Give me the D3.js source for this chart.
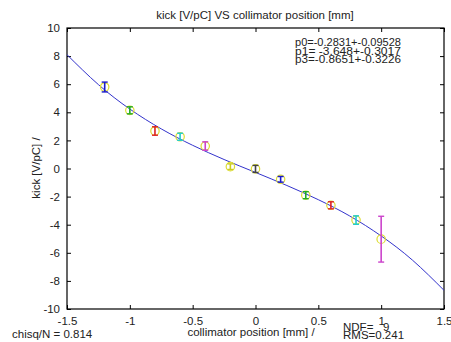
<!DOCTYPE html>
<head>
<meta charset="utf-8">
<title>kick vs collimator position</title>
<script src="https://cdn.jsdelivr.net/npm/d3@7"></script>
<style>
  body { margin: 0; background: #fff; }
  svg text { font-family: "Liberation Sans", Arial, sans-serif; fill: #222; }
</style>
</head>
<body>
<div id="chart"></div>
<script>
// measured points
var positions = [-1.2, -1.0, -0.8, -0.6, -0.4, -0.2, 0, 0.2, 0.4, 0.6, 0.8, 1.0];
var kicks     = [5.8, 4.14, 2.67, 2.26, 1.6, 0.13, -0.03, -0.77, -1.9, -2.62, -3.67, -5.03];
var errors    = [0.35, 0.25, 0.3, 0.25, 0.3, 0.2, 0.25, 0.2, 0.25, 0.25, 0.3, 1.63];
var barColors = ["#1a1acc", "#22aa22", "#dd2222", "#22cccc", "#cc44cc", "#cccc22", "#444444",
                 "#1a1acc", "#22aa22", "#dd2222", "#22cccc", "#cc44cc"];

// fit curve
var fitX = [-1.5, -1.25, -1.0, -0.75, -0.5, -0.25, 0, 0.25, 0.5, 0.75, 1.0, 1.25, 1.5];
var fitY = [8.1, 5.97, 4.23, 2.82, 1.65, 0.64, -0.28, -1.21, -2.22, -3.38, -4.8, -6.53, -8.67];

var xTicks = [-1.5, -1, -0.5, 0, 0.5, 1, 1.5];
var yTicks = [-10, -8, -6, -4, -2, 0, 2, 4, 6, 8, 10];
var fitLines = ["p0=-0.2831+-0.09528", "p1= -3.648+-0.3017", "p3=-0.8651+-0.3226"];

var width = 451, height = 342;
var mLeft = 67, mRight = 444, mTop = 28, mBottom = 309;

var svg = d3.select("#chart").append("svg")
    .attr("width", width)
    .attr("height", height);

var x = d3.scaleLinear().domain([-1.5, 1.5]).range([mLeft, mRight]);
var y = d3.scaleLinear().domain([-10, 10]).range([mBottom, mTop]);

// frame
svg.append("rect")
    .attr("x", mLeft).attr("y", mTop)
    .attr("width", mRight - mLeft).attr("height", mBottom - mTop)
    .attr("fill", "none").attr("stroke", "#000").attr("stroke-width", 1.2);

var fmt = function (d) { return String(d); };

// axes with inward ticks
svg.append("g").attr("transform", "translate(0," + mBottom + ")")
    .call(d3.axisBottom(x).tickValues(xTicks).tickSizeInner(-4).tickSizeOuter(0).tickPadding(8).tickFormat(fmt));
svg.append("g").attr("transform", "translate(0," + mTop + ")")
    .call(d3.axisTop(x).tickValues(xTicks).tickSizeInner(-4).tickSizeOuter(0).tickFormat(""));
svg.append("g").attr("transform", "translate(" + mLeft + ",0)")
    .call(d3.axisLeft(y).tickValues(yTicks).tickSizeInner(-4).tickSizeOuter(0).tickPadding(7).tickFormat(fmt));
svg.append("g").attr("transform", "translate(" + mRight + ",0)")
    .call(d3.axisRight(y).tickValues(yTicks).tickSizeInner(-4).tickSizeOuter(0).tickFormat(""));

svg.selectAll(".domain").remove();
svg.selectAll(".tick line").attr("stroke", "#000");
svg.selectAll(".tick text")
    .attr("font-size", 11.5)
    .attr("font-family", "Liberation Sans, Arial, sans-serif")
    .attr("fill", "#222");

// fit curve
var line = d3.line()
    .x(function (d, i) { return x(fitX[i]); })
    .y(function (d) { return y(d); })
    .curve(d3.curveNatural);
svg.append("path")
    .datum(fitY)
    .attr("d", line)
    .attr("fill", "none")
    .attr("stroke", "#3333cc")
    .attr("stroke-width", 1);

// points with error bars
var pts = svg.selectAll(".pt").data(positions).enter().append("g").attr("class", "pt");
pts.append("circle")
    .attr("cx", function (d) { return x(d); })
    .attr("cy", function (d, i) { return y(kicks[i]); })
    .attr("r", 4.2)
    .attr("fill", "none")
    .attr("stroke", "#dddd33")
    .attr("stroke-width", 1.2);
pts.append("line")
    .attr("x1", function (d) { return x(d); })
    .attr("x2", function (d) { return x(d); })
    .attr("y1", function (d, i) { return y(kicks[i] + errors[i]); })
    .attr("y2", function (d, i) { return y(kicks[i] - errors[i]); })
    .attr("stroke", function (d, i) { return barColors[i]; })
    .attr("stroke-width", 1.6);
[1, -1].forEach(function (s) {
  pts.append("line")
      .attr("x1", function (d) { return x(d) - 3; })
      .attr("x2", function (d) { return x(d) + 3; })
      .attr("y1", function (d, i) { return y(kicks[i] + s * errors[i]); })
      .attr("y2", function (d, i) { return y(kicks[i] + s * errors[i]); })
      .attr("stroke", function (d, i) { return barColors[i]; })
      .attr("stroke-width", 1.4);
});

// texts
svg.append("text").attr("x", 255).attr("y", 19).attr("text-anchor", "middle")
    .attr("font-size", 11.5).text("kick [V/pC] VS collimator position [mm]");
svg.append("text").attr("transform", "translate(40,168) rotate(-90)").attr("text-anchor", "middle")
    .attr("font-size", 11.5).text("kick [V/pC] /");
svg.append("text").attr("x", 251).attr("y", 336).attr("text-anchor", "middle")
    .attr("font-size", 11.5).text("collimator position [mm] /");
svg.append("text").attr("x", 12).attr("y", 338)
    .attr("font-size", 11.5).text("chisq/N = 0.814");
svg.append("text").attr("x", 343).attr("y", 331).attr("font-size", 11.5)
    .attr("xml:space", "preserve").text("NDF=   9");
svg.append("text").attr("x", 343).attr("y", 339).attr("font-size", 11.5).text("RMS=0.241");

svg.selectAll(".fit").data(fitLines).enter().append("text")
    .attr("class", "fit")
    .attr("x", 295)
    .attr("y", function (d, i) { return 46 + i * 8.5; })
    .attr("font-size", 11.5)
    .attr("textLength", 106)
    .attr("lengthAdjust", "spacingAndGlyphs")
    .text(function (d) { return d; });
</script>
</body>
</html>
